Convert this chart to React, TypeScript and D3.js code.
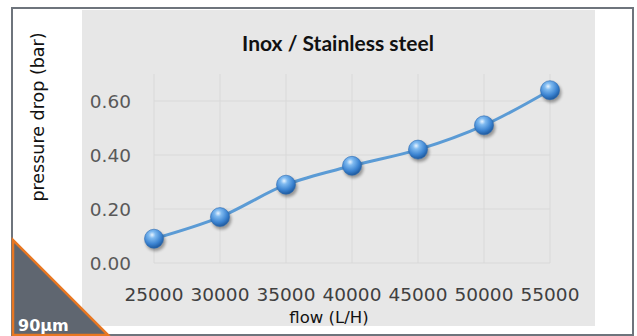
import React, { useEffect, useRef } from 'react';
import * as d3 from 'd3';

const flows = [25000, 30000, 35000, 40000, 45000, 50000, 55000];
const pressure = [0.09, 0.17, 0.29, 0.36, 0.42, 0.51, 0.64];
const yTicks = [0, 0.2, 0.4, 0.6];

const W = 637;
const H = 336;
const FONT = "'DejaVu Sans', sans-serif";

const App: React.FC = () => {
  const svgRef = useRef<SVGSVGElement>(null);

  useEffect(() => {
    if (!svgRef.current) return;
    const svg = d3.select(svgRef.current);
    svg.selectAll('*').remove();

    const defs = svg.append('defs');
    const grad = defs.append('radialGradient')
      .attr('id', 'ball')
      .attr('cx', '40%').attr('cy', '30%').attr('r', '70%');
    grad.append('stop').attr('offset', '0%').attr('stop-color', '#e8f4ff');
    grad.append('stop').attr('offset', '25%').attr('stop-color', '#7fbaf0');
    grad.append('stop').attr('offset', '70%').attr('stop-color', '#3a82d0');
    grad.append('stop').attr('offset', '100%').attr('stop-color', '#1f5a9e');
    const blur = defs.append('filter').attr('id', 'shadow')
      .attr('x', '-50%').attr('y', '-50%').attr('width', '200%').attr('height', '200%');
    blur.append('feGaussianBlur').attr('stdDeviation', 1.5);

    // frame
    svg.append('rect')
      .attr('x', 12).attr('y', 8).attr('width', 621).attr('height', 327)
      .attr('fill', '#fff').attr('stroke', '#6e747c').attr('stroke-width', 2);
    svg.append('rect')
      .attr('x', 82).attr('y', 10).attr('width', 513).attr('height', 316)
      .attr('fill', '#e7e7e7');

    const x = d3.scaleLinear().domain([25000, 55000]).range([154, 550]);
    const y = d3.scaleLinear().domain([0, 0.7]).range([263, 74]);

    // gridlines
    const g = svg.append('g');
    g.selectAll('line.v').data(flows).enter().append('line')
      .attr('x1', d => x(d)).attr('x2', d => x(d))
      .attr('y1', y(0.7)).attr('y2', y(0))
      .attr('stroke', '#d9d9d9').attr('stroke-width', 1);
    g.selectAll('line.h').data(yTicks).enter().append('line')
      .attr('x1', x(25000)).attr('x2', x(55000))
      .attr('y1', d => y(d)).attr('y2', d => y(d))
      .attr('stroke', '#d9d9d9').attr('stroke-width', 1);

    // tick labels
    svg.append('g').selectAll('text').data(yTicks).enter().append('text')
      .attr('x', 131).attr('y', d => y(d) + 7)
      .attr('text-anchor', 'end')
      .attr('font-family', FONT).attr('font-size', 18.5)
      .attr('fill', '#595959')
      .text(d => d.toFixed(2));
    svg.append('g').selectAll('text').data(flows).enter().append('text')
      .attr('x', d => x(d)).attr('y', 301)
      .attr('text-anchor', 'middle')
      .attr('font-family', FONT).attr('font-size', 18.5)
      .attr('fill', '#404040')
      .text(d => String(d));

    // titles
    svg.append('text')
      .attr('x', 338).attr('y', 51).attr('text-anchor', 'middle')
      .attr('font-family', 'Lato, sans-serif').attr('font-weight', 'bold')
      .attr('font-size', 21).attr('fill', '#111')
      .text('Inox / Stainless steel');
    svg.append('text')
      .attr('x', 329).attr('y', 323).attr('text-anchor', 'middle')
      .attr('font-family', FONT).attr('font-size', 16.5)
      .attr('fill', '#111')
      .text('flow (L/H)');
    svg.append('text')
      .attr('transform', `translate(44, 117) rotate(-90)`)
      .attr('text-anchor', 'middle')
      .attr('font-family', FONT).attr('font-size', 17.5)
      .attr('fill', '#111')
      .text('pressure drop (bar)');

    // line
    const pts = flows.map((f, i) => [x(f), y(pressure[i])] as [number, number]);
    svg.append('path')
      .attr('d', d3.line().curve(d3.curveCatmullRom.alpha(0.5))(pts))
      .attr('fill', 'none').attr('stroke', '#5b9bd5').attr('stroke-width', 3);

    // markers
    const m = svg.append('g');
    m.selectAll('circle.s').data(pts).enter().append('circle')
      .attr('cx', d => d[0] + 1.5).attr('cy', d => d[1] + 2.5).attr('r', 10)
      .attr('fill', '#000').attr('opacity', 0.35).attr('filter', 'url(#shadow)');
    m.selectAll('circle.b').data(pts).enter().append('circle')
      .attr('cx', d => d[0]).attr('cy', d => d[1]).attr('r', 9.5)
      .attr('fill', 'url(#ball)').attr('stroke', '#2a6bb5').attr('stroke-width', 0.6);

    // badge
    svg.append('path')
      .attr('d', 'M13,240 L13,335 L108,335 Z')
      .attr('fill', '#5f6670').attr('stroke', '#e87722').attr('stroke-width', 2.5);
    svg.append('text')
      .attr('x', 18).attr('y', 331)
      .attr('font-family', FONT).attr('font-weight', 'bold')
      .attr('font-size', 16).attr('fill', '#fff')
      .text('90µm');
  }, []);

  return (
    <div style={{ position: 'absolute', left: 0, top: 0 }}>
      <svg ref={svgRef} width={W} height={H} style={{ display: 'block' }} />
    </div>
  );
};

export default App;
